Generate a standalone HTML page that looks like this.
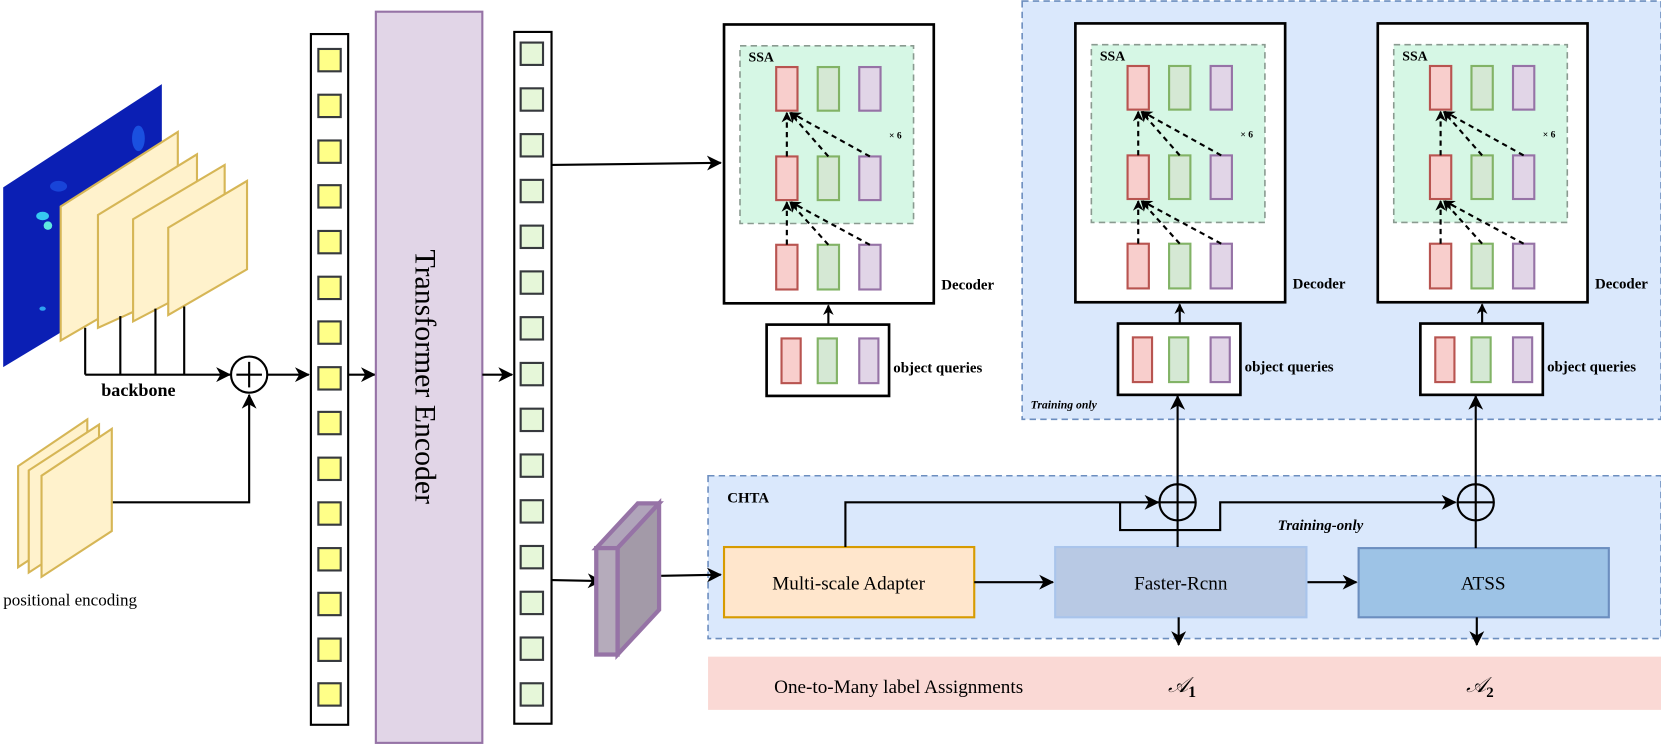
<!DOCTYPE html>
<html><head><meta charset="utf-8"><style>html,body{margin:0;padding:0;background:#fff}svg{display:block}</style></head>
<body>
<svg width="1661" height="745" viewBox="0 0 1560 700" preserveAspectRatio="none" xmlns="http://www.w3.org/2000/svg" font-family="'Liberation Serif', serif">
<defs>
<marker id="ar" markerWidth="10" markerHeight="10" refX="9" refY="5" orient="auto" markerUnits="userSpaceOnUse"><path d="M0,0 L10,5 L0,10 L3,5 z" fill="#000"/></marker>
<marker id="ar2" markerWidth="14" markerHeight="14" refX="13" refY="7" orient="auto" markerUnits="userSpaceOnUse"><path d="M0,0 L14,7 L0,14 L4,7 z" fill="#000"/></marker>
<clipPath id="hm"><polygon points="3,176 152,79 152,255 3,345"/></clipPath>
<g id="dec">
 <rect x="0" y="0" width="197" height="262" fill="#fff" stroke="#000" stroke-width="2.5"/>
 <rect x="15" y="20" width="163" height="167" fill="#d6f7e5" stroke="#8a9a90" stroke-width="1.5" stroke-dasharray="6,4"/>
 <text x="23" y="35" font-size="13" font-weight="bold">SSA</text>
 <text x="155" y="107" font-size="9" font-weight="bold">× 6</text>
 <g stroke-width="2">
 <rect x="49" y="40" width="20" height="41" fill="#f8cecc" stroke="#b85450"/>
 <rect x="88" y="40" width="20" height="41" fill="#d5e8d4" stroke="#82b366"/>
 <rect x="127" y="40" width="20" height="41" fill="#e1d5e7" stroke="#9673a6"/>
 <rect x="49" y="124" width="20" height="41" fill="#f8cecc" stroke="#b85450"/>
 <rect x="88" y="124" width="20" height="41" fill="#d5e8d4" stroke="#82b366"/>
 <rect x="127" y="124" width="20" height="41" fill="#e1d5e7" stroke="#9673a6"/>
 <rect x="49" y="207" width="20" height="42" fill="#f8cecc" stroke="#b85450"/>
 <rect x="88" y="207" width="20" height="42" fill="#d5e8d4" stroke="#82b366"/>
 <rect x="127" y="207" width="20" height="42" fill="#e1d5e7" stroke="#9673a6"/>
 </g>
 <g stroke="#000" stroke-width="2" stroke-dasharray="5,4" fill="none" marker-end="url(#ar)">
 <line x1="59" y1="124" x2="59" y2="83"/>
 <line x1="98" y1="124" x2="62" y2="83"/>
 <line x1="137" y1="124" x2="63" y2="83"/>
 <line x1="59" y1="207" x2="59" y2="167"/>
 <line x1="98" y1="207" x2="62" y2="167"/>
 <line x1="137" y1="207" x2="63" y2="167"/>
 </g>
 <line x1="98" y1="282" x2="98" y2="264" stroke="#000" stroke-width="2" marker-end="url(#ar)"/>
 <rect x="40" y="282" width="115" height="67" fill="#fff" stroke="#000" stroke-width="2.5"/>
 <g stroke-width="2">
 <rect x="54" y="295" width="18" height="42" fill="#f8cecc" stroke="#b85450"/>
 <rect x="88" y="295" width="18" height="42" fill="#d5e8d4" stroke="#82b366"/>
 <rect x="127" y="295" width="18" height="42" fill="#e1d5e7" stroke="#9673a6"/>
 </g>
 <text x="159" y="327" font-size="14" font-weight="bold">object queries</text>
 <text x="204" y="249" font-size="14" font-weight="bold">Decoder</text>
</g>
</defs>

<rect x="960" y="1" width="600" height="393" fill="#dae8fc" stroke="#6c8ebf" stroke-width="1.5" stroke-dasharray="6,4"/>
<text x="968" y="384" font-size="11" font-weight="bold" font-style="italic">Training only</text>

<rect x="665" y="447" width="895" height="153" fill="#dae8fc" stroke="#6c8ebf" stroke-width="1.5" stroke-dasharray="6,4"/>
<text x="683" y="472" font-size="14" font-weight="bold">CHTA</text>

<rect x="665" y="617" width="895" height="50" fill="#fad9d5"/>
<text x="844" y="651" font-size="18" text-anchor="middle">One-to-Many label Assignments</text>
<text x="1097" y="650" font-size="20" font-style="italic">𝒜<tspan font-size="15" font-weight="bold" dy="5" font-style="normal">1</tspan></text>
<text x="1377" y="650" font-size="20" font-style="italic">𝒜<tspan font-size="14" font-weight="bold" dy="5" font-style="normal">2</tspan></text>

<polygon points="3,176 152,79 152,255 3,345" fill="#0b1fb4"/>
<g clip-path="url(#hm)">
 <ellipse cx="40" cy="203" rx="6" ry="4" fill="#36c8f0"/>
 <ellipse cx="45" cy="212" rx="4" ry="4" fill="#5fe8e0"/>
 <ellipse cx="40" cy="290" rx="3" ry="2" fill="#2ea0f0"/>
 <ellipse cx="55" cy="175" rx="8" ry="5" fill="#1844d8"/>
 <ellipse cx="130" cy="130" rx="6" ry="12" fill="#1a50e0"/>
</g>
<g fill="#fff2cc" stroke="#d6b656" stroke-width="2">
 <polygon points="57,320 57,194 167,124 167,256"/>
 <polygon points="92,308 92,202 185,145 185,266"/>
 <polygon points="125,302 125,206 211,155 211,257"/>
 <polygon points="158,296 158,214 232,170 232,253"/>
</g>
<g stroke="#000" stroke-width="2" fill="none">
 <line x1="80" y1="308" x2="80" y2="352"/>
 <line x1="113" y1="297" x2="113" y2="352"/>
 <line x1="146" y1="290" x2="146" y2="352"/>
 <line x1="173" y1="288" x2="173" y2="352"/>
 <line x1="80" y1="352" x2="216" y2="352" marker-end="url(#ar2)"/>
 <circle cx="234" cy="352" r="17"/>
 <line x1="234" y1="340" x2="234" y2="364"/>
 <line x1="222" y1="352" x2="246" y2="352"/>
 <line x1="251" y1="352" x2="290" y2="352" marker-end="url(#ar2)"/>
 <polyline points="105,472 234,472 234,371" marker-end="url(#ar2)"/>
</g>
<text x="130" y="372" font-size="17" font-weight="bold" text-anchor="middle">backbone</text>
<g fill="#fff2cc" stroke="#d6b656" stroke-width="2">
 <polygon points="17,533 17,438 82,394 82,490"/>
 <polygon points="27,538 27,442 93,399 93,495"/>
 <polygon points="39,542 39,447 105,403 105,499"/>
</g>
<text x="3" y="569" font-size="16">positional encoding</text>

<rect x="292" y="32" width="35" height="649" fill="#fff" stroke="#000" stroke-width="2"/>
<g fill="#ffff88" stroke="#36393d" stroke-width="2">
<rect x="299" y="46" width="21" height="21"/><rect x="299" y="89" width="21" height="21"/><rect x="299" y="132" width="21" height="21"/><rect x="299" y="174" width="21" height="21"/><rect x="299" y="217" width="21" height="21"/><rect x="299" y="260" width="21" height="21"/><rect x="299" y="302" width="21" height="21"/><rect x="299" y="345" width="21" height="21"/><rect x="299" y="387" width="21" height="21"/><rect x="299" y="430" width="21" height="21"/><rect x="299" y="472" width="21" height="21"/><rect x="299" y="515" width="21" height="21"/><rect x="299" y="557" width="21" height="21"/><rect x="299" y="600" width="21" height="21"/><rect x="299" y="642" width="21" height="21"/>
</g>
<line x1="327" y1="352" x2="352" y2="352" stroke="#000" stroke-width="2" marker-end="url(#ar2)"/>

<rect x="353" y="11" width="100" height="687" fill="#e1d5e7" stroke="#9673a6" stroke-width="2"/>
<text transform="translate(390,354) rotate(90)" font-size="28" text-anchor="middle">Transformer Encoder</text>
<line x1="453" y1="352" x2="481" y2="352" stroke="#000" stroke-width="2" marker-end="url(#ar2)"/>

<rect x="483" y="30" width="35" height="650" fill="#fff" stroke="#000" stroke-width="2"/>
<g fill="#e6f7d9" stroke="#36393d" stroke-width="2">
<rect x="489" y="40" width="21" height="21"/><rect x="489" y="83" width="21" height="21"/><rect x="489" y="126" width="21" height="21"/><rect x="489" y="169" width="21" height="21"/><rect x="489" y="212" width="21" height="21"/><rect x="489" y="255" width="21" height="21"/><rect x="489" y="298" width="21" height="21"/><rect x="489" y="341" width="21" height="21"/><rect x="489" y="384" width="21" height="21"/><rect x="489" y="427" width="21" height="21"/><rect x="489" y="470" width="21" height="21"/><rect x="489" y="513" width="21" height="21"/><rect x="489" y="556" width="21" height="21"/><rect x="489" y="599" width="21" height="21"/><rect x="489" y="642" width="21" height="21"/>
</g>
<line x1="518" y1="155" x2="677" y2="153" stroke="#000" stroke-width="2" marker-end="url(#ar2)"/>
<line x1="518" y1="545" x2="565" y2="546" stroke="#000" stroke-width="2" marker-end="url(#ar2)"/>

<polygon points="560,515 580,515 619,473 599,473" fill="#b0a4ba" stroke="#9673a6" stroke-width="4"/>
<polygon points="580,515 619,473 619,573 580,615" fill="#a39aa8" stroke="#9673a6" stroke-width="4"/>
<rect x="560" y="515" width="20" height="100" fill="#b5abbb" stroke="#9673a6" stroke-width="4"/>
<line x1="621" y1="541" x2="677" y2="540" stroke="#000" stroke-width="2" marker-end="url(#ar2)"/>

<use href="#dec" x="680" y="23"/>
<use href="#dec" x="1010" y="22"/>
<use href="#dec" x="1294" y="22"/>

<rect x="680" y="514" width="235" height="66" fill="#ffe6cc" stroke="#d79b00" stroke-width="2"/>
<text x="797" y="554" font-size="18" text-anchor="middle">Multi-scale Adapter</text>
<rect x="991" y="514" width="236" height="66" fill="#b8c9e4" stroke="#a9c4eb" stroke-width="2"/>
<text x="1109" y="554" font-size="18" text-anchor="middle">Faster-Rcnn</text>
<rect x="1276" y="515" width="235" height="65" fill="#9dc3e6" stroke="#6c8ebf" stroke-width="2"/>
<text x="1393" y="554" font-size="18" text-anchor="middle">ATSS</text>
<g stroke="#000" stroke-width="2" fill="none">
 <line x1="915" y1="547" x2="989" y2="547" marker-end="url(#ar2)"/>
 <line x1="1228" y1="547" x2="1274" y2="547" marker-end="url(#ar2)"/>
 <polyline points="794,514 794,472 1088,472" marker-end="url(#ar2)"/>
 <polyline points="1052,472 1052,498 1146,498 1146,472 1367,472" marker-end="url(#ar2)"/>
 <circle cx="1106" cy="472" r="17"/>
 <circle cx="1386" cy="472" r="17"/>
 <line x1="1089" y1="472" x2="1123" y2="472"/>
 <line x1="1369" y1="472" x2="1403" y2="472"/>
 <line x1="1106" y1="514" x2="1106" y2="372" marker-end="url(#ar2)"/>
 <line x1="1386" y1="515" x2="1386" y2="372" marker-end="url(#ar2)"/>
 <line x1="1107" y1="580" x2="1107" y2="606" marker-end="url(#ar2)"/>
 <line x1="1387" y1="580" x2="1387" y2="606" marker-end="url(#ar2)"/>
</g>
<text x="1200" y="498" font-size="14" font-weight="bold" font-style="italic">Training-only</text>
</svg>
</body></html>
